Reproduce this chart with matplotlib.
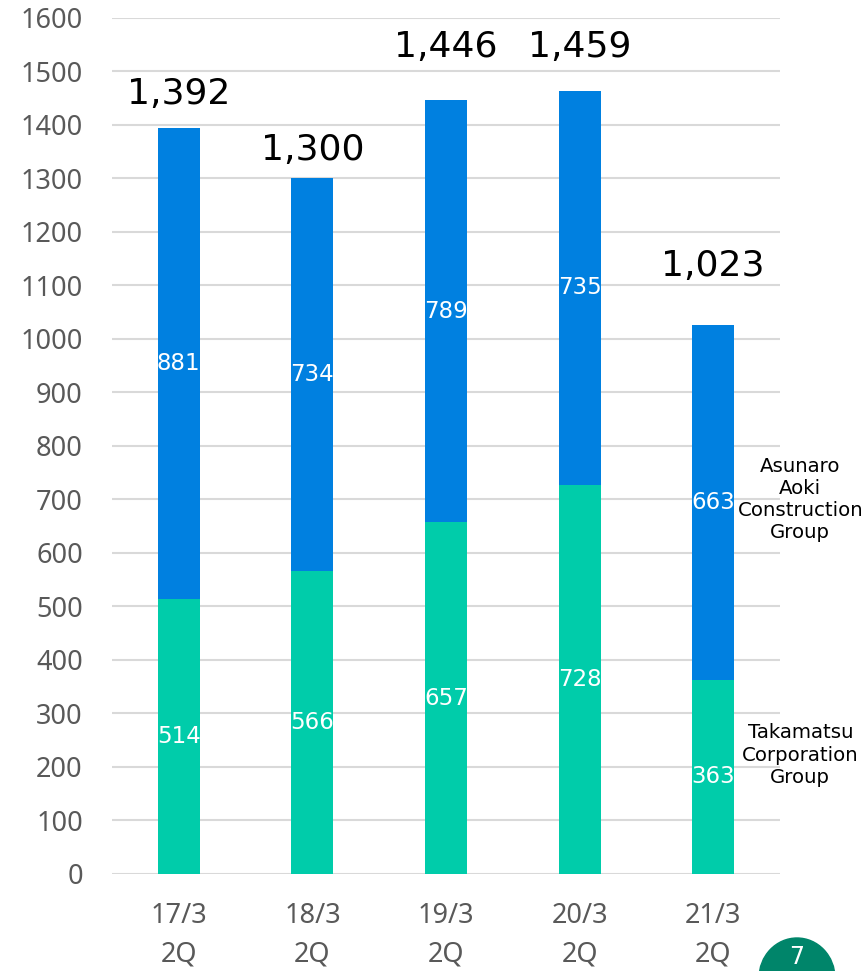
import matplotlib.pyplot as plt
from matplotlib.patches import Ellipse
import numpy as np

# values
periods = ['17/3\n2Q', '18/3\n2Q', '19/3\n2Q', '20/3\n2Q', '21/3\n2Q']
takamatsu = [514, 566, 657, 728, 363]
asunaro = [881, 734, 789, 735, 663]
totals = ['1,392', '1,300', '1,446', '1,459', '1,023']

green = '#00CCAA'
blue = '#0080E0'
gray = '#595959'

# how far each total label sits above its bar (pixels, placed by hand in the original)
label_lift = [34, 28, 53, 44, 59]

fig = plt.figure(figsize=(8.66, 9.71), dpi=100)
ax = fig.add_axes([0.1293, 0.0999, 0.7714, 0.8816])

x = np.arange(len(periods))
w = 0.314

# Stacked bars
ax.bar(x, takamatsu, w, color=green, zorder=2)
ax.bar(x, asunaro, w, bottom=takamatsu, color=blue, zorder=2)

# Segment labels
for i in range(len(x)):
    ax.text(x[i], takamatsu[i] / 2, str(takamatsu[i]), ha='center', va='center',
            color='white', fontsize=16.5, family='DejaVu Sans', zorder=3)
    ax.text(x[i], takamatsu[i] + asunaro[i] / 2, str(asunaro[i]), ha='center', va='center',
            color='white', fontsize=16.5, family='DejaVu Sans', zorder=3)
    top = takamatsu[i] + asunaro[i]
    ax.annotate(totals[i], (x[i], top), xytext=(0, label_lift[i] * 0.72),
                textcoords='offset points', ha='center', va='center',
                fontsize=26, family='DejaVu Sans', color='black')

# Series names beside the last bar
ax.text(4.652, 700, 'Asunaro\nAoki\nConstruction\nGroup', ha='center', va='center',
        fontsize=14.2, family='DejaVu Sans', linespacing=1.22, clip_on=False)
ax.text(4.652, 222, 'Takamatsu\nCorporation\nGroup', ha='center', va='center',
        fontsize=14.2, family='DejaVu Sans', linespacing=1.22, clip_on=False)

ax.set_xlim(-0.5, 4.5)
ax.set_ylim(0, 1600)
ax.set_yticks(np.arange(0, 1700, 100))
ax.set_xticks(x)
ax.set_xticklabels(periods, linespacing=1.5)
ax.yaxis.grid(True, color='#D9D9D9', linewidth=1.5, zorder=0)
ax.set_axisbelow(True)
for s in ax.spines.values():
    s.set_visible(False)
ax.tick_params(axis='both', length=0, colors=gray, labelsize=19.5)
ax.tick_params(axis='y', pad=21)
ax.tick_params(axis='x', pad=20)
for lab in ax.get_xticklabels() + ax.get_yticklabels():
    lab.set_family('Noto Sans')

# page number badge, cut off at the bottom
badge = Ellipse((797 / 866, 1 - 978 / 971), 76 / 866, 80 / 971, transform=fig.transFigure,
                color='#00856A', clip_on=False)
fig.patches.append(badge)
fig.text(797 / 866, 1 - 957 / 971, '7', ha='center', va='center', color='white', fontsize=17)

fig.savefig('out.png', dpi=100)
